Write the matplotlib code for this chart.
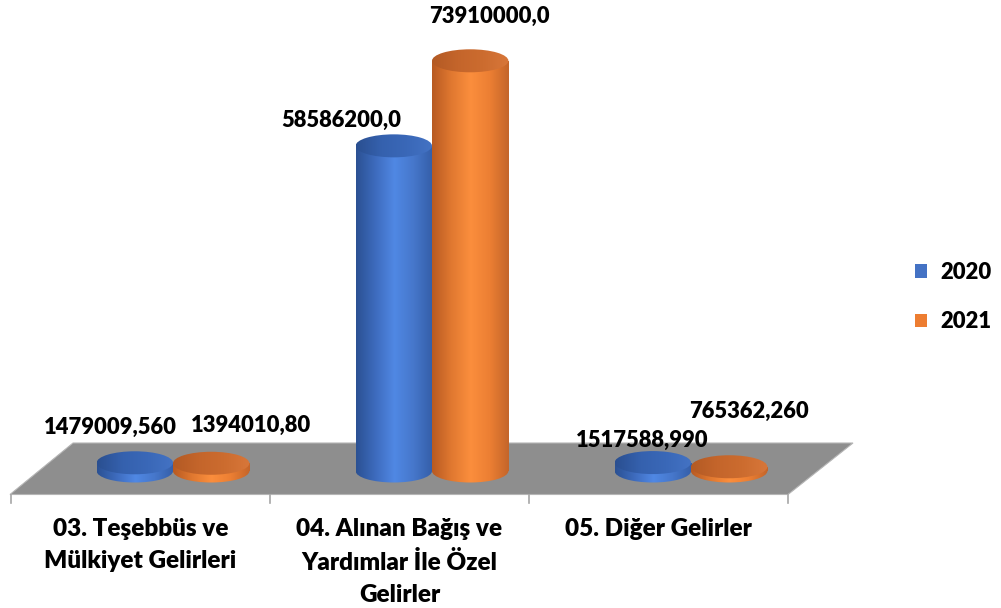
import matplotlib
matplotlib.use('Agg')
import matplotlib.pyplot as plt
import numpy as np
from matplotlib.patches import Ellipse, Polygon, Patch
from matplotlib.colors import LinearSegmentedColormap

# ---------------- data ----------------
categories = ["03. Teşebbüs ve\nMülkiyet Gelirleri",
              "04. Alınan Bağış ve\nYardımlar İle Özel\nGelirler",
              "05. Diğer Gelirler"]
series_names = ["2020", "2021"]
values_2020 = [1479009.560, 58586200.0, 1517588.990]
values_2021 = [1394010.80, 73910000.0, 765362.260]
labels_2020 = ["1479009,560", "58586200,0", "1517588,990"]
labels_2021 = ["1394010,80", "73910000,0", "765362,260"]

# ---------------- layout ----------------
W, H, DPI = 1001, 608, 100
PX_PER_U = 259.0
X0_PX = 11.0
PX_PER_VAL = 5.55e-6
BASE_PX = 471.0

plt.rcParams['font.family'] = ['Lato', 'DejaVu Sans']
FS = 15.8
FS_CAT = 17.5
WEIGHT = 'heavy'

fig = plt.figure(figsize=(W / DPI, H / DPI), dpi=DPI)
ax = fig.add_axes([0, 0, 1, 1])
ax.set_xlim(-X0_PX / PX_PER_U, (W - X0_PX) / PX_PER_U)
ax.set_ylim(-(H - BASE_PX) / PX_PER_VAL, BASE_PX / PX_PER_VAL)
ax.axis('off')

def ux(px):
    return (px - X0_PX) / PX_PER_U

def vy(px):
    return (BASE_PX - px) / PX_PER_VAL

# floor
depth_shift = 65 / PX_PER_U
fy_front, fy_back = vy(494.5), vy(443)
fx_l, fx_r = ux(10), ux(788)
floor = Polygon([(fx_l, fy_front), (fx_r, fy_front), (fx_r + depth_shift, fy_back),
                 (fx_l + depth_shift * 0.97, fy_back)], closed=True,
                facecolor='#8e8e8e', edgecolor='#b5b5b5', lw=0.8, zorder=1)
ax.add_patch(floor)
ncat = len(categories)
for b in range(ncat + 1):
    ax.plot([b, b], [fy_front, vy(503)], color='#a6a6a6', lw=1.2, zorder=1)

# bars
bar_w = 0.295
mid_shift = 32.5 / PX_PER_U
ell_h = 23 / PX_PER_VAL
x = np.arange(ncat) + 0.5 + mid_shift

side_colors = [['#2b5193', '#3d6bbd', '#5088e4', '#4677cb', '#345ea8'],
               ['#b85a22', '#e07830', '#fb8e3d', '#ec7f33', '#c4652a']]
top_colors = [['#2a4f90', '#3561ae', '#3a68b8', '#4473c4'],
              ['#b35a24', '#c4652b', '#cc6c2f', '#d8773a']]

def gradient_fill(patch, x0, x1, y0, y1, colors, z):
    cmap = LinearSegmentedColormap.from_list('g', colors)
    grad = np.linspace(0, 1, 256).reshape(1, -1)
    im = ax.imshow(grad, cmap=cmap, extent=[x0, x1, y0, y1], aspect='auto',
                   interpolation='bilinear', zorder=z)
    im.set_clip_path(patch)

series_vals = [values_2020, values_2021]
offsets = [-bar_w / 2, bar_w / 2]
for s in range(2):
    xs = x + offsets[s]
    bars = ax.bar(xs, series_vals[s], width=bar_w, bottom=0, color='none',
                  edgecolor='none', zorder=2 + s)
    for i, rect in enumerate(bars):
        xc = xs[i]
        h = series_vals[s][i]
        z = 2 + s * 0.5 + i * 0.01
        bot = Ellipse((xc, 0), bar_w, ell_h, facecolor='none', edgecolor='none', zorder=z)
        ax.add_patch(bot)
        gradient_fill(bot, xc - bar_w / 2, xc + bar_w / 2, -ell_h, h + ell_h,
                      side_colors[s], z)
        gradient_fill(rect, xc - bar_w / 2, xc + bar_w / 2, -ell_h, h + ell_h,
                      side_colors[s], z)
        top = Ellipse((xc, h), bar_w, ell_h, facecolor='none', edgecolor='none', zorder=z + 0.001)
        ax.add_patch(top)
        gradient_fill(top, xc - bar_w / 2, xc + bar_w / 2, h - ell_h, h + ell_h,
                      top_colors[s], z + 0.001)

# value labels (offsets in pixels from the top of each bar)
lab_off = [[(-24, 35), (-53, 25), (-11, 22)],
           [(40, 38), (19, 44), (20, 55)]]
labels = [labels_2020, labels_2021]
for s in range(2):
    xs = x + offsets[s]
    for i in range(ncat):
        ax.annotate(labels[s][i], (xs[i], series_vals[s][i]),
                    xytext=lab_off[s][i], textcoords='offset pixels',
                    ha='center', va='center', fontsize=FS, fontweight=WEIGHT,
                    color='black', zorder=10)

# category labels
for i, c in enumerate(categories):
    ax.text(i + 0.5, vy(518), c, ha='center', va='top', fontsize=FS_CAT,
            fontweight=WEIGHT, linespacing=1.56, color='black')

# legend
handles = [Patch(facecolor='#4472C4', edgecolor='none'),
           Patch(facecolor='#ED7D31', edgecolor='none')]
leg = ax.legend(handles, series_names, loc='center left',
                bbox_to_anchor=(915 / W, 1 - 297 / H), frameon=False,
                prop={'family': 'Lato', 'weight': WEIGHT, 'size': FS},
                handlelength=0.55, handleheight=0.55, handletextpad=0.6,
                labelspacing=1.3, borderpad=0, borderaxespad=0)

fig.savefig('out.png', dpi=DPI)
